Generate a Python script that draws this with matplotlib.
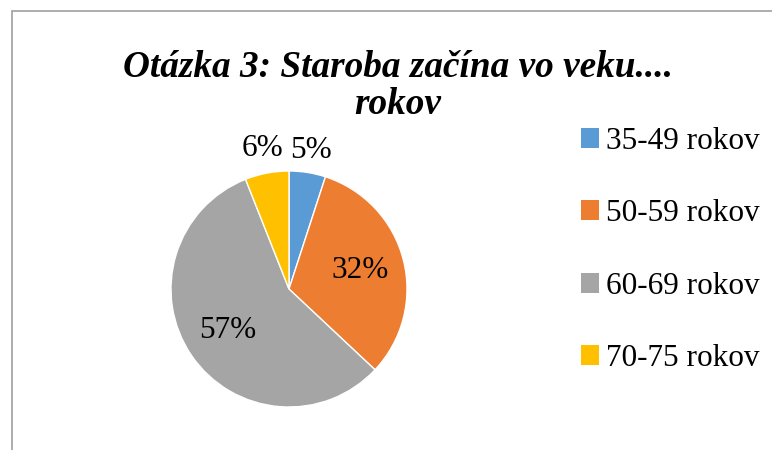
import numpy as np
import matplotlib.pyplot as plt
from matplotlib.patches import Rectangle, Patch

labels = ['35-49 rokov', '50-59 rokov', '60-69 rokov', '70-75 rokov']
values = [5, 32, 57, 6]
colors = ['#5b9bd5', '#ed7d31', '#a5a5a5', '#ffc000']
# where each percentage label sits (fraction of the radius)
label_dist = [1.19, 0.62, 0.63, 1.21]

plt.rcParams['font.family'] = ['Liberation Serif', 'DejaVu Serif']

fig = plt.figure(figsize=(7.72, 4.5), dpi=100)

# chart border (cut off on right and bottom like in the screenshot)
fig.patches.append(Rectangle((12.5 / 772, -0.1), 1.2, 1.1 - 10.5 / 450,
                             transform=fig.transFigure, fill=False,
                             edgecolor='#a0a0a0', linewidth=1.2))

cx, cy, r = 289, 289, 118
ax = fig.add_axes([(cx - r) / 772, (450 - cy - r) / 450, 2 * r / 772, 2 * r / 450])
wedges, _ = ax.pie(values, colors=colors, startangle=90, counterclock=False,
                   wedgeprops=dict(edgecolor='white', linewidth=1))
ax.set_xlim(-1, 1)
ax.set_ylim(-1, 1)

for w, v, d in zip(wedges, values, label_dist):
    ang = np.deg2rad((w.theta1 + w.theta2) / 2)
    ax.text(d * np.cos(ang), d * np.sin(ang), f'{v}%', ha='center', va='center',
            fontsize=22.5)

fig.text(398 / 772, 1 - 86 / 450, 'Otázka 3: Staroba začína vo veku....\nrokov',
         ha='center', va='center', fontsize=26.8, fontweight='bold',
         fontstyle='italic', linespacing=1.05)

handles = [Patch(facecolor=c, edgecolor='none') for c in colors]
fig.legend(handles, labels, loc='center left', bbox_to_anchor=(565 / 772, 1 - 250 / 450),
           frameon=False, fontsize=22.5, handlelength=0.6, handleheight=0.6,
           handletextpad=0.22, labelspacing=1.39, borderpad=0)

fig.savefig('out.png', dpi=100)
